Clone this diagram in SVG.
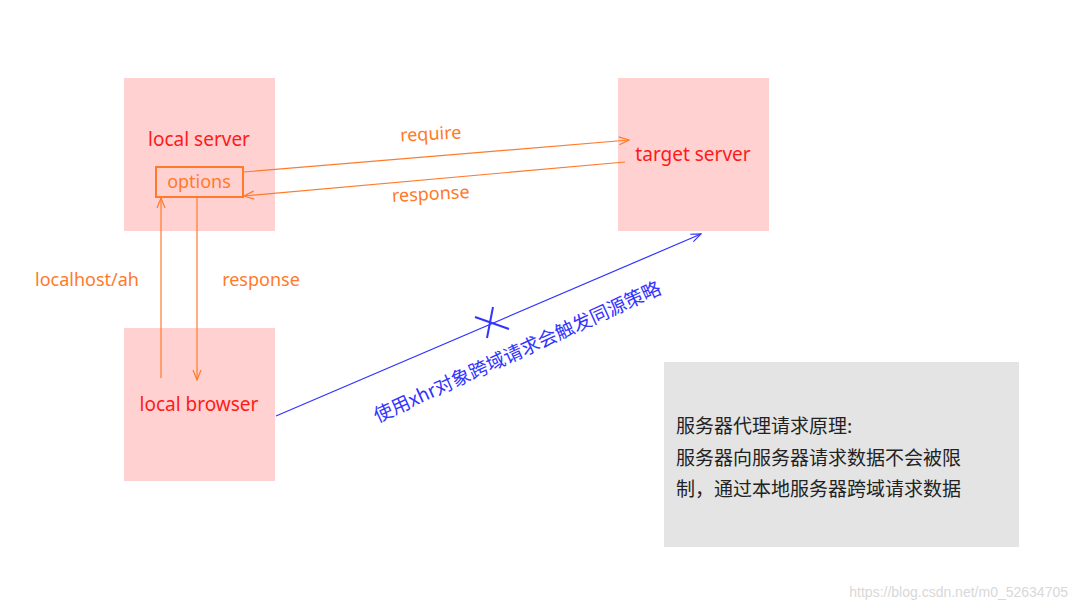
<svg xmlns="http://www.w3.org/2000/svg" width="1080" height="608" viewBox="0 0 1080 608">
<style>
.node{fill:#ffd1d1}
.red{fill:#ff1a1a;font-family:"Noto Sans","Liberation Sans",sans-serif;font-size:19px}
.or{fill:#ff7a2a;font-family:"Noto Sans","Liberation Sans",sans-serif;font-size:18px}
.ol{stroke:#ff7a2a;stroke-width:1.2;fill:none}
.cn{font-family:"Noto Sans CJK SC",sans-serif;font-size:19px;fill:#222}
</style>
<defs>
<marker id="ao" markerWidth="12" markerHeight="10" refX="11" refY="5" orient="auto" markerUnits="userSpaceOnUse"><path d="M1,1 L11,5 L1,9" fill="none" stroke="#ff7a2a" stroke-width="1.2"/></marker>
<marker id="ab" markerWidth="12" markerHeight="10" refX="11" refY="5" orient="auto" markerUnits="userSpaceOnUse"><path d="M1,1 L11,5 L1,9" fill="none" stroke="#3333ff" stroke-width="1.2"/></marker>
</defs>
<rect width="1080" height="608" fill="#fff"/>
<g id="local-server"><rect class="node" x="124" y="78" width="151" height="153"/><text class="red" x="199" y="146" text-anchor="middle">local server</text>
<rect x="156" y="167" width="87" height="30" fill="none" stroke="#ff7a2a" stroke-width="2"/><text class="or" x="199" y="188" text-anchor="middle">options</text></g>
<g id="target-server"><rect class="node" x="618" y="78" width="151" height="153"/><text class="red" x="693" y="161" text-anchor="middle">target server</text></g>
<g id="local-browser"><rect class="node" x="124" y="328" width="151" height="153"/><text class="red" x="199" y="411" text-anchor="middle">local browser</text></g>
<g id="note"><rect x="664" y="362" width="355" height="185" fill="#e4e4e4"/>
<text class="cn" x="676" y="433">服务器代理请求原理:</text>
<text class="cn" x="676" y="465">服务器向服务器请求数据不会被限</text>
<text class="cn" x="676" y="496">制，通过本地服务器跨域请求数据</text></g>
<g id="connectors">
<line class="ol" x1="244" y1="172" x2="629" y2="140" marker-end="url(#ao)"/>
<line class="ol" x1="625" y1="162" x2="244" y2="196" marker-end="url(#ao)"/>
<line class="ol" x1="161" y1="378" x2="161" y2="198" marker-end="url(#ao)"/>
<line class="ol" x1="197" y1="198" x2="197" y2="380" marker-end="url(#ao)"/>
<line x1="276" y1="416" x2="701" y2="234" stroke="#3333ff" stroke-width="1.2" marker-end="url(#ab)"/>
<path d="M475,317 L509,329 M493,307 L487,338" stroke="#3333ff" stroke-width="2"/>
<text class="or" x="431" y="140" text-anchor="middle" transform="rotate(-3 431 140)">require</text>
<text class="or" x="431" y="200" text-anchor="middle" transform="rotate(-3 431 200)">response</text>
<text class="or" x="87" y="286" text-anchor="middle">localhost/ah</text>
<text class="or" x="261" y="286" text-anchor="middle">response</text>
<text x="520" y="358" text-anchor="middle" transform="rotate(-24.5 520 358)" style="font-family:'Noto Sans CJK SC',sans-serif;font-size:19px;fill:#3333ff">使用xhr对象跨域请求会触发同源策略</text>
</g>
<text x="1068" y="597" text-anchor="end" style="font-family:'Liberation Sans',sans-serif;font-size:14px;fill:#d8d8d8">https://blog.csdn.net/m0_52634705</text>
</svg>
